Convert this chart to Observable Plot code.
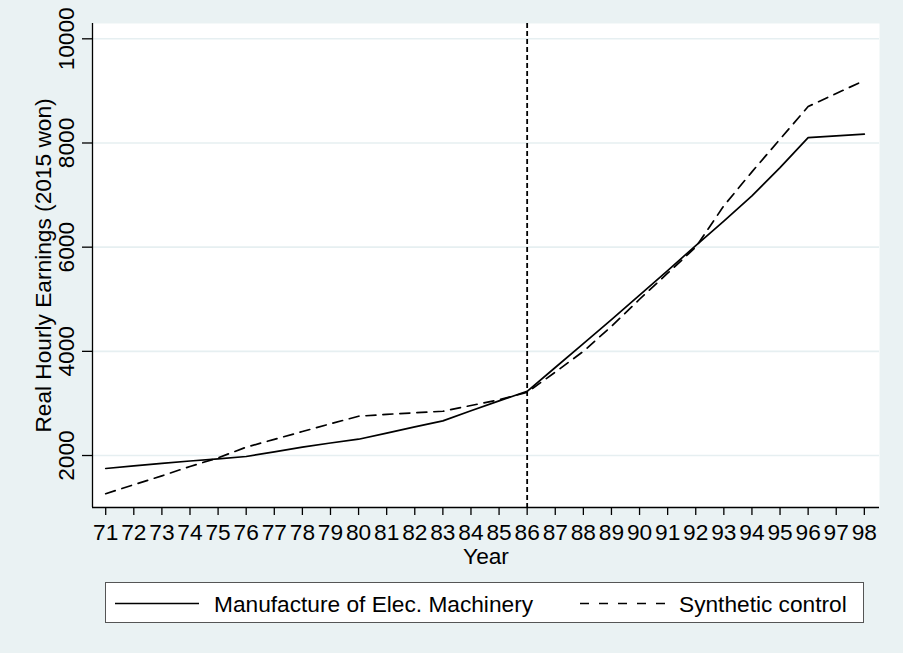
<!DOCTYPE html>
<html><head><meta charset="utf-8">
<script src="https://cdn.jsdelivr.net/npm/d3@7"></script>
<script src="https://cdn.jsdelivr.net/npm/@observablehq/plot@0.6"></script>
<style>
html,body{margin:0;padding:0;background:#eaf2f3;width:903px;height:653px;overflow:hidden;font-family:"Liberation Sans",Arial,sans-serif;}
#chart{position:absolute;left:0;top:0;}
#legend{position:absolute;left:105px;top:582px;width:757px;height:39px;background:#fff;border:1px solid #555;}
#legend svg{position:absolute;left:0;top:0;}
#legend span{position:absolute;font-size:22.7px;line-height:23px;color:#000;white-space:nowrap;top:10px;}
</style></head>
<body>
<div id="chart"></div>
<div id="legend">
  <svg width="757" height="39">
    <line x1="9" x2="93" y1="20.5" y2="20.5" stroke="#000" stroke-width="1.6"/>
    <line x1="474" x2="560" y1="20.5" y2="20.5" stroke="#000" stroke-width="1.6" stroke-dasharray="9,10"/>
  </svg>
  <span id="lab1" style="left:108px"></span>
  <span id="lab2" style="left:573px"></span>
</div>
<script>
const years = [71,72,73,74,75,76,77,78,79,80,81,82,83,84,85,86,87,88,89,90,91,92,93,94,95,96,97,98];
const machinery = [1751,1800,1850,1895,1936,1981,2070,2160,2240,2313,2430,2550,2665,2860,3050,3233,3690,4150,4610,5080,5550,6030,6500,6986,7528,8104,8136,8169];
const synthetic = [1266,1440,1610,1790,1956,2160,2310,2460,2610,2754,2790,2820,2850,2960,3070,3215,3600,4000,4480,5000,5500,6000,6794,7446,8073,8700,8950,9200];
const seriesNames = ["Manufacture of Elec. Machinery", "Synthetic control"];
const yTicks = [2000,4000,6000,8000,10000];
const treatmentYear = 86;
const xDomain = [70.53, 98.54];
const yDomain = [1002, 10294];
const yTitle = "Real Hourly Earnings (2015 won)";
const xTitle = "Year";

document.getElementById("lab1").textContent = seriesNames[0];
document.getElementById("lab2").textContent = seriesNames[1];

const machData = years.map((y, i) => ({year: y, value: machinery[i]}));
const synthData = years.map((y, i) => ({year: y, value: synthetic[i]}));

const FS = 22.7;
const chart = Plot.plot({
  width: 903,
  height: 570,
  marginTop: 23,
  marginBottom: 63,
  marginLeft: 92,
  marginRight: 24,
  style: {background: "transparent", fontFamily: "'Liberation Sans', Arial, sans-serif", fontSize: FS + "px", color: "#000"},
  x: {domain: xDomain},
  y: {domain: yDomain},
  marks: [
    Plot.frame({fill: "white", stroke: null}),
    Plot.ruleY(yTicks, {stroke: "#e6eff1", strokeWidth: 1.6}),
    Plot.ruleX([treatmentYear], {stroke: "#000", strokeWidth: 1.8, strokeDasharray: "5,3"}),
    Plot.lineY(machData, {x: "year", y: "value", stroke: "#000", strokeWidth: 1.7}),
    Plot.lineY(synthData, {x: "year", y: "value", stroke: "#000", strokeWidth: 1.7, strokeDasharray: "10,7"}),
    Plot.ruleX([xDomain[0]], {stroke: "#000", strokeWidth: 1.3}),
    Plot.ruleY([yDomain[0]], {stroke: "#000", strokeWidth: 1.3}),
    Plot.axisX(years, {anchor: "bottom", tickSize: 8, tickPadding: 8, fontSize: FS, label: null, tickFormat: d => String(d), strokeWidth: 1.3}),
    Plot.axisY(yTicks, {anchor: "left", tickSize: 10, tickPadding: 9, tickRotate: -90, fontSize: FS, label: null, tickFormat: d => String(d), strokeWidth: 1.3}),
    Plot.text([xTitle], {text: d => d, frameAnchor: "bottom", dy: 56, lineAnchor: "bottom", fontSize: FS}),
    Plot.text([yTitle], {text: d => d, frameAnchor: "left", rotate: -90, dx: -42, lineAnchor: "bottom", textAnchor: "middle", fontSize: FS})
  ]
});
document.getElementById("chart").appendChild(chart);
</script>
</body></html>
